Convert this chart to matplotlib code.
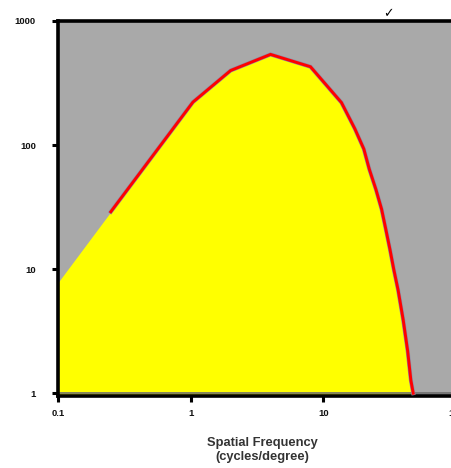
import matplotlib
matplotlib.use("Agg")
import matplotlib.pyplot as plt
from matplotlib.ticker import FixedLocator, NullLocator

# Data
freq = [0.1, 0.25, 1.04, 2, 4, 8, 13.7, 17.3, 20.2, 22.2, 24.9, 27.5,
        29.6, 31.8, 34.0, 36.6, 40.0, 43.2, 45.7, 47.6]
sens = [7.8, 29, 222, 399, 538, 428, 220, 135, 93, 64, 44, 30.4,
        20.9, 14.4, 9.9, 6.8, 3.9, 2.2, 1.27, 1.0]
xticks = [0.1, 1, 10, 100]
xticklabels = ["0.1", "1", "10", "100"]
yticks = [1, 10, 100, 1000]
yticklabels = ["1", "10", "100", "1000"]

plt.rcParams['font.family'] = ['Liberation Sans', 'DejaVu Sans']

fig = plt.figure(figsize=(4.51, 4.68), dpi=100)
ax = fig.add_axes([58/451, 72/468, (456-58)/451, (396-21)/468])
ax.set_xscale('log')
ax.set_yscale('log')
ax.set_xlim(0.1, 100)
ax.set_ylim(0.95, 1000)
ax.set_facecolor('#A9A9A9')

ax.fill_between(freq, sens, 0.95, color='#FFFF00', linewidth=0, zorder=2)
ax.plot(freq[1:], sens[1:], color='#8C8CA8', linewidth=2.9, zorder=2.8,
        solid_joinstyle='miter')
ax.plot(freq[1:], sens[1:], color='#FF0000', linewidth=2.1, zorder=3,
        solid_joinstyle='miter')
ax.axhline(1, color='#6E6E6E', linewidth=1.2, zorder=2.5)

for side in ['left', 'top', 'bottom']:
    ax.spines[side].set_linewidth(2.6)
    ax.spines[side].set_color('black')
ax.spines['right'].set_visible(False)

ax.xaxis.set_major_locator(FixedLocator(xticks))
ax.yaxis.set_major_locator(FixedLocator(yticks))
ax.xaxis.set_minor_locator(NullLocator())
ax.yaxis.set_minor_locator(NullLocator())
ax.set_xticklabels(xticklabels)
ax.set_yticklabels(yticklabels)
ax.tick_params(axis='both', which='major', direction='out', length=4,
               width=2.2, labelsize=6.8, colors='black')
ax.tick_params(axis='y', pad=12)
ax.tick_params(axis='x', pad=5)
for lab in ax.get_xticklabels() + ax.get_yticklabels():
    lab.set_fontweight('bold')
    lab.set_color('#111111')

fig.text(262/451, 1 - 450/468, "Spatial Frequency\n(cycles/degree)",
         ha='center', va='center', fontsize=9.3, fontweight='bold',
         color='#333333', linespacing=1.15)

fig.text(388/451, 1 - 14/468, "\u2713", ha='center', va='center',
         fontsize=9, fontweight='bold', color='black', family=['DejaVu Sans'])

fig.savefig('out.png', dpi=100)
